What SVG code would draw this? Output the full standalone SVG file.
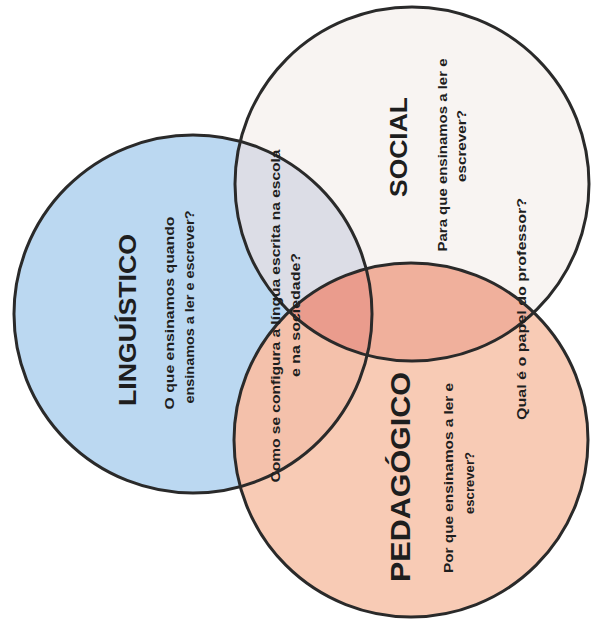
<svg xmlns="http://www.w3.org/2000/svg" width="596" height="626" viewBox="0 0 596 626">
<style>
.ring{fill:none;stroke:#2a2a2a;stroke-width:3}
.t{font-family:"Liberation Sans",Arial,sans-serif;font-weight:700;fill:#1e1e1e;text-anchor:middle}
.h{font-size:24px}
.s{font-size:12px}
</style>
<defs>
<circle id="cL" cx="193" cy="314" r="179"/>
<circle id="cS" cx="412" cy="184" r="177"/>
<circle id="cP" cx="411" cy="440" r="177"/>
<clipPath id="clipL"><use href="#cL"/></clipPath>
<clipPath id="clipS"><use href="#cS"/></clipPath>
</defs>
<rect width="596" height="626" fill="#ffffff"/>
<g id="fills">
<use href="#cL" fill="#bbd8f1"/>
<use href="#cS" fill="#f8f4f2"/>
<use href="#cS" fill="#dcdde6" clip-path="url(#clipL)"/>
<use href="#cP" fill="#f8cbb5"/>
<use href="#cP" fill="#f4c1ab" clip-path="url(#clipL)"/>
<use href="#cP" fill="#f0b09c" clip-path="url(#clipS)"/>
<g clip-path="url(#clipL)"><use href="#cP" fill="#ea9c8d" clip-path="url(#clipS)"/></g>
</g>
<g id="connectors"></g>
<g id="linguistico">
<use href="#cL" class="ring"/>
<text class="t h" transform="translate(136,320) rotate(-90)" textLength="172" lengthAdjust="spacingAndGlyphs">LINGUÍSTICO</text>
<text class="t s" transform="translate(174,313) rotate(-90)" textLength="193" lengthAdjust="spacingAndGlyphs">O que ensinamos quando</text>
<text class="t s" transform="translate(194,307) rotate(-90)" textLength="193" lengthAdjust="spacingAndGlyphs">ensinamos a ler e escrever?</text>
</g>
<g id="social">
<use href="#cS" class="ring"/>
<text class="t h" transform="translate(407,147) rotate(-90)" textLength="100" lengthAdjust="spacingAndGlyphs">SOCIAL</text>
<text class="t s" transform="translate(447,155) rotate(-90)" textLength="193" lengthAdjust="spacingAndGlyphs">Para que ensinamos a ler e</text>
<text class="t s" transform="translate(466,146) rotate(-90)" textLength="72" lengthAdjust="spacingAndGlyphs">escrever?</text>
<text class="t s" transform="translate(526,309) rotate(-90)" textLength="222" lengthAdjust="spacingAndGlyphs">Qual é o papel do professor?</text>
</g>
<g id="pedagogico">
<use href="#cP" class="ring"/>
<text class="t h" transform="translate(410,477) rotate(-90)" textLength="210" lengthAdjust="spacingAndGlyphs" style="font-size:27px">PEDAGÓGICO</text>
<text class="t s" transform="translate(453,478) rotate(-90)" textLength="190" lengthAdjust="spacingAndGlyphs">Por que ensinamos a ler e</text>
<text class="t s" transform="translate(474,483) rotate(-90)" textLength="62" lengthAdjust="spacingAndGlyphs">escrever?</text>
</g>
<g id="centro">
<text class="t s" transform="translate(280,316) rotate(-90)" textLength="333" lengthAdjust="spacingAndGlyphs">Como se configura a língua escrita na escola</text>
<text class="t s" transform="translate(300,315) rotate(-90)" textLength="124" lengthAdjust="spacingAndGlyphs">e na sociedade?</text>
</g>
</svg>
